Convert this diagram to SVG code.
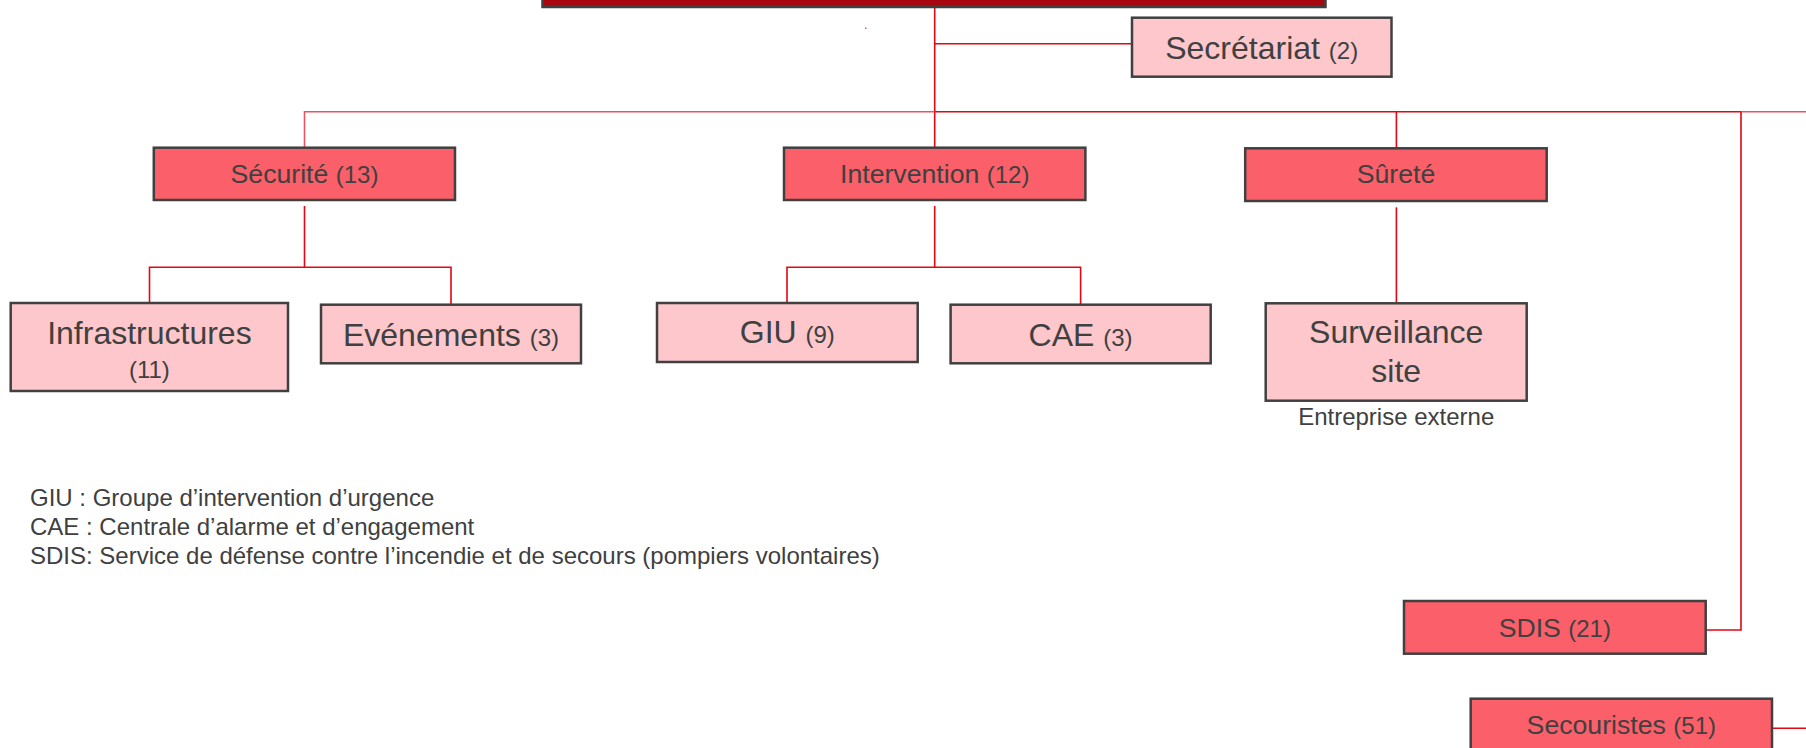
<svg xmlns="http://www.w3.org/2000/svg" width="1806" height="748" viewBox="0 0 1806 748">
<style>
text{font-family:"Liberation Sans",Arial,sans-serif;fill:#404040}
.dark{fill:#FB5F69;stroke:#404040;stroke-width:2.5}
.light{fill:#FDC7CB;stroke:#404040;stroke-width:2.5}
.top{fill:#A80710;stroke:#404040;stroke-width:2.5}
.c{fill:none;stroke:#E30613;stroke-width:1.6}
.c2{fill:none;stroke:#E85560;stroke-width:1.6}
.m{text-anchor:middle}
.s{font-size:24px}
</style>
<g id="connectors">
<polyline class="c" points="934.7,7 934.7,147.7"/>
<polyline class="c" points="934.7,43.7 1132,43.7"/>
<polyline class="c2" points="304.5,147.7 304.5,111.7 934.7,111.7"/>
<polyline class="c" points="934.7,111.7 1741,111.7"/>
<polyline class="c2" points="1741,111.7 1806,111.7"/>
<polyline class="c" points="1396.4,111.7 1396.4,148.3"/>
<polyline class="c" points="1741,111.7 1741,630 1705.7,630"/>
<polyline class="c" points="1772,728.3 1806,728.3"/>
<polyline class="c" points="304.5,206 304.5,267.3"/>
<polyline class="c" points="149.5,303 149.5,267.3 451,267.3 451,304.7"/>
<polyline class="c" points="934.7,206 934.7,267.3"/>
<polyline class="c" points="787,303 787,267.3 1080.6,267.3 1080.6,304.7"/>
<polyline class="c" points="1396.4,207.3 1396.4,303"/>
<rect x="865" y="27.5" width="1.5" height="1.5" fill="#E06060"/>
</g>
<g id="direction">
<rect class="top" x="542.5" y="-40" width="783" height="47"/>
</g>
<g id="secretariat">
<rect class="light" x="1132" y="17.7" width="259.5" height="59"/>
<text class="m" x="1261.7" y="59.3" font-size="32">Secrétariat <tspan class="s">(2)</tspan></text>
</g>
<g id="securite">
<rect class="dark" x="153.8" y="147.7" width="301.2" height="52.3"/>
<text class="m" x="304.5" y="183.3" font-size="26.67">Sécurité <tspan class="s">(13)</tspan></text>
</g>
<g id="intervention">
<rect class="dark" x="784" y="147.7" width="301.4" height="52.3"/>
<text class="m" x="934.7" y="183.3" font-size="26.67">Intervention <tspan class="s">(12)</tspan></text>
</g>
<g id="surete">
<rect class="dark" x="1245.2" y="148.3" width="301.5" height="52.7"/>
<text class="m" x="1396" y="183.3" font-size="26.67">Sûreté</text>
</g>
<g id="infrastructures">
<rect class="light" x="10.7" y="303" width="277.3" height="88"/>
<text class="m" x="149.4" y="344" font-size="32">Infrastructures</text>
<text class="m s" x="149.4" y="377.7">(11)</text>
</g>
<g id="evenements">
<rect class="light" x="321" y="304.7" width="260" height="58.6"/>
<text class="m" x="451" y="346" font-size="32">Evénements <tspan class="s">(3)</tspan></text>
</g>
<g id="giu">
<rect class="light" x="657" y="303" width="260.7" height="59"/>
<text class="m" x="787.3" y="342.7" font-size="32">GIU <tspan class="s">(9)</tspan></text>
</g>
<g id="cae">
<rect class="light" x="950.6" y="304.7" width="260.1" height="58.6"/>
<text class="m" x="1080.6" y="346" font-size="32">CAE <tspan class="s">(3)</tspan></text>
</g>
<g id="surveillance">
<rect class="light" x="1265.7" y="303.3" width="261" height="97.4"/>
<text class="m" x="1396.2" y="343.3" font-size="32">Surveillance</text>
<text class="m" x="1396.2" y="381.7" font-size="32">site</text>
<text class="m s" x="1396.2" y="425">Entreprise externe</text>
</g>
<g id="sdis">
<rect class="dark" x="1404" y="601" width="301.7" height="52.7"/>
<text class="m" x="1554.8" y="636.7" font-size="26.67">SDIS <tspan class="s">(21)</tspan></text>
</g>
<g id="secouristes">
<rect class="dark" x="1470.7" y="698.7" width="301.3" height="53"/>
<text class="m" x="1621.3" y="734.3" font-size="26.67">Secouristes <tspan class="s">(51)</tspan></text>
</g>
<g id="legend">
<text class="s" x="30" y="506">GIU : Groupe d’intervention d’urgence</text>
<text class="s" x="30" y="535">CAE : Centrale d’alarme et d’engagement</text>
<text class="s" x="30" y="564">SDIS: Service de défense contre l’incendie et de secours (pompiers volontaires)</text>
</g>
</svg>
